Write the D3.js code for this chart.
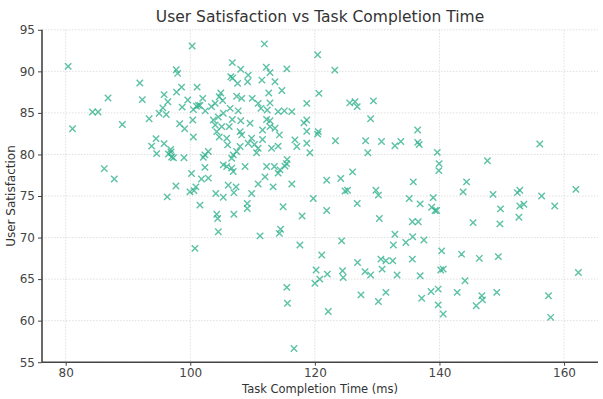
<!DOCTYPE html>
<html><head><meta charset="utf-8">
<script src="https://cdn.jsdelivr.net/npm/d3@7"></script>
<style>body{margin:0;background:#fff}svg{display:block}</style>
</head><body><svg id="c" width="603" height="399"></svg>
<script>
const title = "User Satisfaction vs Task Completion Time";
const xLabel = "Task Completion Time (ms)";
const yLabel = "User Satisfaction";
const xTicks = [80, 100, 120, 140, 160];
const yTicks = [55, 60, 65, 70, 75, 80, 85, 90, 95];

const completionTime = [
100.3,80.4,97.75,97.97,91.9,98.6,101.1,97.8,95.8,86.8,92.3,99.6,96.4,98.7,101.0,101.3,95.6,100.5,84.3,85.2,95.0,96.15,100.4,93.4,98.3,89.1,81.1,99.1,100.5,94.5,93.8,95.8,96.85,96.9,94.6,96.5,97.0,97.3,99.0,86.2,100.2,87.8,97.7,100.9,99.95,100.6,96.3,
111.9,120.45,106.75,108.1,112.2,112.8,115.5,106.5,106.8,109.3,109.2,107.6,111.5,113.6,112.6,114.7,120.65,104.9,102.0,104.65,107.45,108.25,109.95,105.2,118.7,110.9,112.8,104.0,101.55,103.4,106.4,111.35,112.35,107.7,102.4,105.3,114.1,115.1,116.3,104.5,103.7,106.75,108.1,112.25,112.8,109.6,118.7,118.25,104.0,105.05,106.25,112.8,113.6,111.6,108.0,108.25,104.25,120.55,120.45,118.7,114.3,104.65,105.85,109.85,111.6,116.8,118.7,109.3,110.3,106.0,114.1,108.0,117.1,113.05,110.9,107.45,110.65,119.2,102.9,102.35,102.1,106.9,106.65,115.55,115.45,115.2,105.3,105.85,108.8,102.35,106.65,112.25,113.5,114.4,106.9,114.1,112.0,102.9,101.8,106.1,107.35,110.9,113.3,116.3,107.0,109.85,104.1,121.9,119.75,105.3,
101.55,104.25,104.4,107.0,109.15,109.15,114.9,117.95,121.9,104.5,111.2,114.5,114.3,117.6,100.75,121.1,120.2,122.0,120.8,120.0,115.5,115.6,122.15,116.65,
123.2,125.6,126.45,126.8,129.4,128.95,123.3,128.15,130.7,132.85,133.8,136.5,136.5,136.75,128.5,139.65,139.95,139.9,156.1,147.7,124.15,126.05,124.85,125.25,129.8,130.2,135.8,135.15,139.0,144.35,143.8,148.6,152.5,152.9,156.4,161.9,
126.8,136.9,138.75,139.3,139.55,149.8,152.9,153.55,158.5,130.35,135.65,136.6,145.4,149.7,152.75,124.3,132.85,132.6,134.6,135.7,137.5,140.35,143.55,149.45,146.4,126.85,130.6,131.4,132.5,135.65,124.45,124.55,128.05,128.95,130.8,133.2,136.9,140.2,140.6,144.1,162.3,127.4,130.2,131.4,137.15,138.65,139.8,139.8,140.6,142.85,146.8,146.9,145.9,149.2,157.5,157.85
];
const satisfaction = [
93.05,90.6,90.2,89.75,88.6,88.1,88.1,87.5,87.2,86.8,86.6,86.55,86.35,85.7,85.8,85.9,85.6,85.4,85.1,85.1,84.95,84.8,84.15,84.3,83.7,83.6,83.1,83.1,82.1,81.9,81.0,81.3,80.6,80.3,80.1,80.05,79.7,79.6,79.6,78.3,77.7,77.05,76.2,76.1,75.5,75.65,74.9,
93.3,92.0,91.05,90.25,90.5,89.85,90.3,89.35,89.2,89.55,88.75,88.55,88.95,88.75,87.4,87.7,87.35,87.4,86.75,86.95,87.0,86.75,86.75,86.5,86.15,86.15,86.2,86.15,85.9,85.75,85.55,85.55,85.35,85.25,85.25,84.95,85.15,85.25,85.15,84.5,84.15,84.2,84.05,84.2,84.05,83.75,84.15,83.8,83.55,83.35,83.35,83.35,83.15,82.95,82.75,82.35,82.75,82.75,82.45,82.8,82.35,82.1,81.95,81.95,81.8,81.75,81.35,81.35,81.2,81.15,81.0,80.95,80.95,80.75,80.75,80.35,80.2,80.2,80.35,79.95,79.65,79.95,79.55,79.4,78.9,78.6,78.75,78.55,78.55,78.45,78.35,78.55,78.55,78.15,77.95,77.75,77.3,77.15,77.05,76.3,76.1,76.45,76.1,76.45,75.4,75.3,75.3,76.9,74.7,74.85,
73.9,72.8,72.3,72.8,74.1,73.5,73.7,72.6,73.25,70.7,70.2,71.0,70.5,69.1,68.7,67.9,66.1,65.6,65.0,64.5,64.0,62.1,61.1,56.65,
90.15,86.2,86.35,85.75,86.45,84.3,81.65,81.65,81.55,81.05,81.55,82.95,81.45,81.2,80.2,80.25,78.9,78.05,81.25,79.25,77.1,77.9,75.6,75.7,75.7,75.1,76.7,74.7,74.8,76.7,75.5,75.2,75.4,75.7,75.0,75.8,
74.1,74.05,73.65,73.25,73.25,73.45,73.8,74.0,73.8,72.3,71.9,71.9,71.8,71.65,72.45,69.6,70.4,69.1,69.4,70.1,69.7,68.4,68.0,67.7,67.5,67.0,67.4,67.2,67.2,67.4,66.0,65.2,65.9,65.5,66.2,65.5,65.4,66.1,66.2,64.8,65.8,63.1,62.3,63.4,62.7,63.5,63.8,61.9,60.8,63.4,63.0,62.5,61.8,63.4,63.0,60.4
];

const svg = d3.select("#c");
const font = "DejaVu Sans, sans-serif";
const x = d3.scaleLinear().domain([76.2, 165.45]).range([42, 598]);
const y = d3.scaleLinear().domain([55, 95]).range([362.2, 29.8]);

// grid
svg.append("g").selectAll("line.gx").data(xTicks).join("line")
  .attr("x1", d => x(d)).attr("x2", d => x(d)).attr("y1", y(95)).attr("y2", y(55))
  .attr("stroke", "#d8d8d8").attr("stroke-width", 0.8).attr("stroke-dasharray", "1.5,1.5");
svg.append("g").selectAll("line.gy").data(yTicks).join("line")
  .attr("x1", 42).attr("x2", 598).attr("y1", d => y(d)).attr("y2", d => y(d))
  .attr("stroke", "#d8d8d8").attr("stroke-width", 0.8).attr("stroke-dasharray", "1.5,1.5");

// points
const pts = completionTime.map((v, i) => [v, satisfaction[i]]);
const s = 3.2;
svg.append("g").selectAll("path").data(pts).join("path")
  .attr("d", d => {
    const cx = x(d[0]), cy = y(d[1]);
    return `M${cx-s},${cy-s}L${cx+s},${cy+s}M${cx-s},${cy+s}L${cx+s},${cy-s}`;
  })
  .attr("stroke", "#33b28f").attr("stroke-opacity", 0.8).attr("stroke-width", 1.4).attr("fill", "none");

// axes
const xAxis = svg.append("g").attr("transform", `translate(0,${y(55)})`)
  .call(d3.axisBottom(x).tickValues(xTicks).tickSize(3.5).tickPadding(2.5));
const yAxis = svg.append("g").attr("transform", `translate(42,0)`)
  .call(d3.axisLeft(y).tickValues(yTicks).tickSize(4).tickPadding(3));
[xAxis, yAxis].forEach(a => {
  a.select(".domain").attr("stroke", "#444").attr("stroke-width", 1.6);
  a.selectAll(".tick line").attr("stroke", "#444").attr("stroke-width", 1);
  a.selectAll(".tick text").attr("fill", "#444").attr("font-family", font).attr("font-size", 12);
});
xAxis.select(".domain").attr("d", `M42,0H598`);
yAxis.select(".domain").attr("d", `M0,${y(95)}V${y(55)}`);

svg.append("text").attr("x", 320).attr("y", 22).attr("text-anchor", "middle")
  .attr("font-family", font).attr("font-size", 15.5).attr("fill", "#333").text(title);
svg.append("text").attr("x", 320).attr("y", 393).attr("text-anchor", "middle")
  .attr("font-family", font).attr("font-size", 11.5).attr("fill", "#333").text(xLabel);
svg.append("text").attr("transform", `translate(15,${(y(55)+y(95))/2}) rotate(-90)`).attr("text-anchor", "middle")
  .attr("font-family", font).attr("font-size", 12).attr("fill", "#333").text(yLabel);
</script></body></html>
